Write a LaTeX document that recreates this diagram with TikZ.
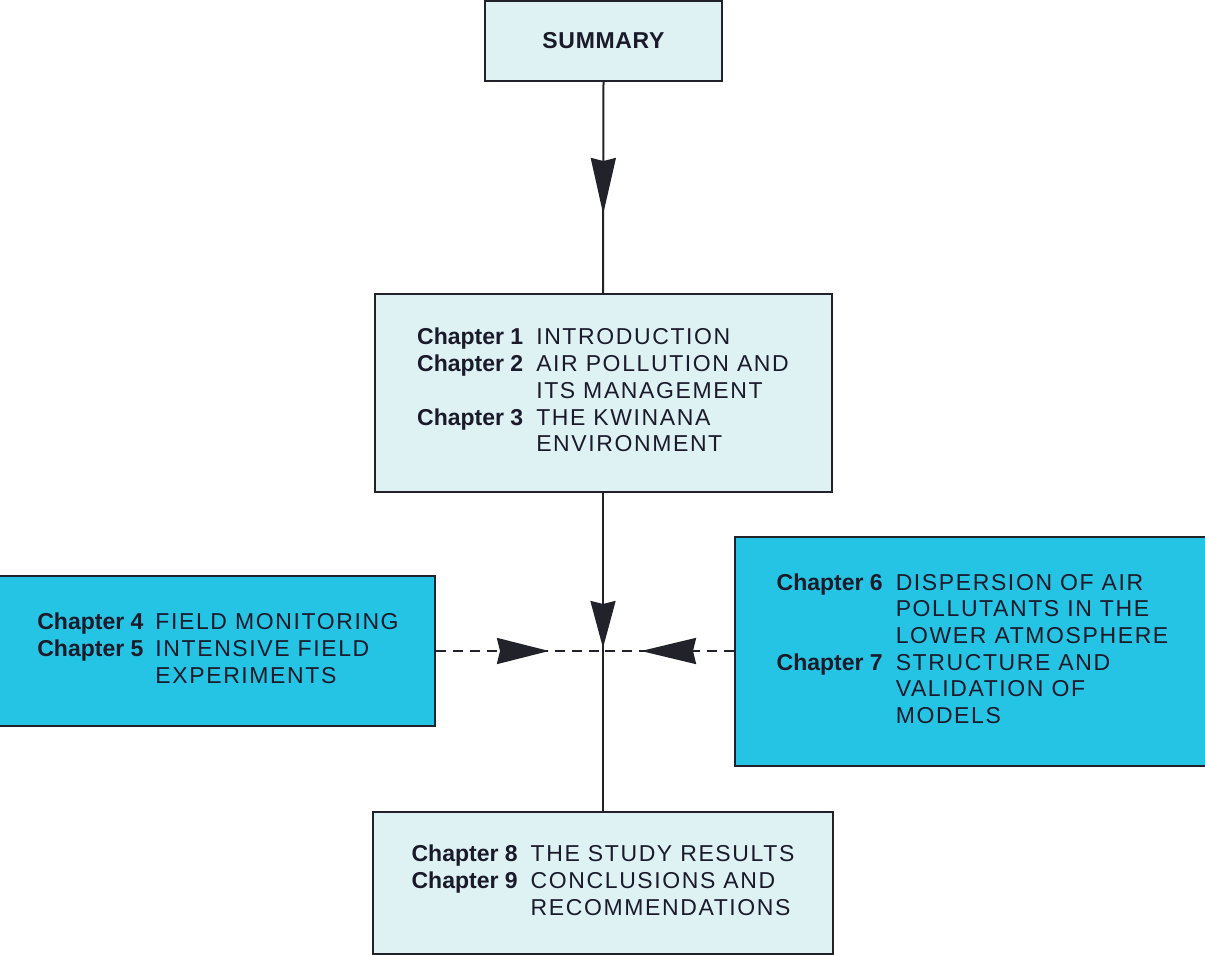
\documentclass[tikz,border=0pt]{standalone}
\usepackage{fontspec}
\usetikzlibrary{arrows.meta,decorations.markings}
\newfontfamily\regf{Liberation Sans}[LetterSpace=7]
\newfontfamily\chapf{Liberation Sans}
\newfontfamily\sumf{Liberation Sans}[LetterSpace=3]
\newcommand\chapl[1]{{\chapf\bfseries Chapter~#1}}
\definecolor{lightbox}{RGB}{222,242,244}
\definecolor{brightbox}{RGB}{38,196,228}
\definecolor{inkc}{RGB}{34,34,42}
\definecolor{txtc}{RGB}{26,26,42}
\begin{document}
\begin{tikzpicture}[x=1pt,y=1pt,
  box/.style={draw=inkc, line width=2pt, inner sep=0pt, text=txtc,
    font=\fontsize{23}{26.7}\selectfont\regf},
  lbox/.style={box, fill=lightbox},
  bbox/.style={box, fill=brightbox},
  spine/.style={draw=inkc, line width=2pt},
  dline/.style={draw=inkc, line width=2.2pt, dash pattern=on 10pt off 7pt},
  headat/.style n args={3}{postaction={decorate}, decoration={markings,
    mark=at position #1 with {\arrow[inkc]{Stealth[length=#2,width=#3,inset=3pt]}}}}
]
\useasboundingbox (0,0) rectangle (1205,-955);

\node[lbox, minimum width=237pt, minimum height=80pt] (summary) at (603.5,-41)
  {\sumf\bfseries SUMMARY};

\node[lbox, minimum width=457pt, minimum height=198pt] (mid) at (603,-393)
  {\begin{tabular}{@{}l@{\hspace{13pt}}l@{}}
   \chapl{1} & INTRODUCTION\\
   \chapl{2} & AIR POLLUTION AND\\
             & ITS MANAGEMENT\\
   \chapl{3} & THE KWINANA\\
             & ENVIRONMENT
   \end{tabular}};

\node[bbox, minimum width=440pt, minimum height=150pt] (left) at (215,-651)
  {\hspace{6pt}\begin{tabular}{@{}l@{\hspace{12pt}}l@{}}
   \chapl{4} & FIELD MONITORING\\
   \chapl{5} & INTENSIVE FIELD\\
             & EXPERIMENTS
   \end{tabular}};

\node[bbox, minimum width=475pt, minimum height=229pt] (right) at (972.5,-651.5)
  {\begin{tabular}{@{}l@{\hspace{13pt}}l@{}}
   \chapl{6} & DISPERSION OF AIR\\
             & POLLUTANTS IN THE\\
             & LOWER ATMOSPHERE\\
   \chapl{7} & STRUCTURE AND\\
             & VALIDATION OF\\
             & MODELS
   \end{tabular}};

\node[lbox, minimum width=460pt, minimum height=142pt] (bottom) at (603,-883)
  {\begin{tabular}{@{}l@{\hspace{13pt}}l@{}}
   \chapl{8} & THE STUDY RESULTS\\
   \chapl{9} & CONCLUSIONS AND\\
             & RECOMMENDATIONS
   \end{tabular}};

\coordinate (j) at (603,-651);

\draw[spine, headat={132pt}{56pt}{25pt}] (summary.south) -- (mid.north);
\draw[spine, headat={155pt}{47pt}{25pt}] (mid.south) -- (bottom.north);
\draw[dline, headat={113pt}{52pt}{26pt}] (left.east |- j) -- (j);
\draw[dline, headat={93pt}{55pt}{26pt}] (right.west |- j) -- (j);
\end{tikzpicture}
\end{document}
